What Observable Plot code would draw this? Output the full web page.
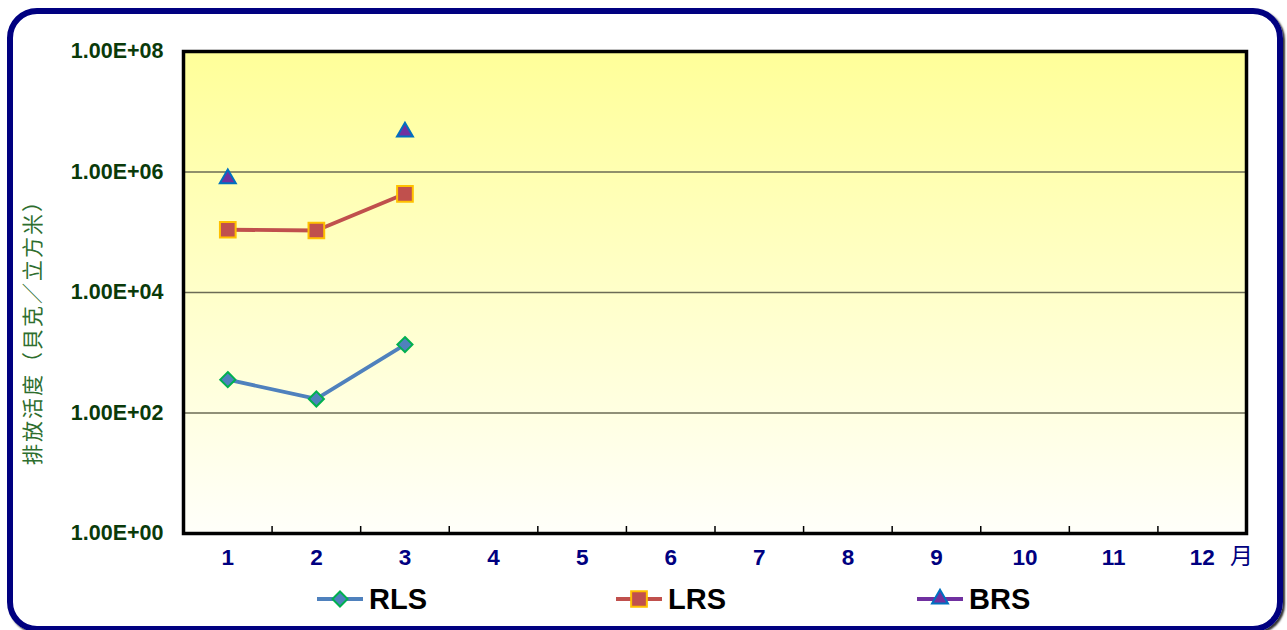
<!DOCTYPE html>
<html>
<head>
<meta charset="utf-8">
<script src="https://cdn.jsdelivr.net/npm/d3@7"></script>
<script src="https://cdn.jsdelivr.net/npm/@observablehq/plot@0.6"></script>
<style>
  html, body { margin: 0; padding: 0; background: #ffffff; }
  body { width: 1287px; height: 630px; position: relative; overflow: hidden; }
  #border { position: absolute; left: 7px; top: 8px; width: 1276px; height: 624px; box-sizing: border-box;
            border: 6px solid #000080; border-radius: 30px; box-shadow: 2px 2px 2px #333; }
  #chart { position: absolute; left: 0; top: 0; }
  #ytitle { position: absolute; left: 31px; top: 327px; transform: translate(-50%, -50%) rotate(-90deg);
            font-family: "Noto Sans CJK TC", sans-serif; font-size: 21px; letter-spacing: 2px; color: #2e6e2e; white-space: nowrap; }
  #month { position: absolute; left: 1230px; top: 538px; font-family: "Noto Sans CJK TC", sans-serif; font-size: 23px; color: #000080; line-height: 1.4; }
  .legend-item { position: absolute; top: 583px; height: 32px; display: flex; align-items: center; }
  .legend-item span { font-family: "Liberation Sans", Arial, sans-serif; font-weight: bold; font-size: 29px; color: #000; margin-left: 4px; line-height: 1; }
</style>
</head>
<body>
<div id="border"></div>
<div id="chart"></div>
<div id="ytitle">排放活度（貝克／立方米）</div>
<div id="month">月</div>
<div id="legend"></div>
<script>
// ---- data ----
const months = [1, 2, 3, 4, 5, 6, 7, 8, 9, 10, 11, 12];
const dataMonths = [1, 2, 3];
const rls = [358, 171, 1365];
const lrs = [110000, 107000, 435000];
const brs = [777000, null, 4610000];
const yTicks = [1, 1e2, 1e4, 1e6, 1e8];
const gridValues = [1e2, 1e4, 1e6];
const seriesNames = ["RLS", "LRS", "BRS"];

const styles = {
  RLS: {line: "#4F81BD", fill: "#4F81BD", stroke: "#00B050", symbol: "diamond2", r: 6.8},
  LRS: {line: "#C0504D", fill: "#C0504D", stroke: "#FFC000", symbol: "square2", r: 10},
  BRS: {line: "#7030A0", fill: "#7030A0", stroke: "#0070C0", symbol: "triangle2", r: 7.6}
};

const seriesValues = {RLS: rls, LRS: lrs, BRS: brs};
const rows = seriesNames.flatMap(name =>
  dataMonths.map((m, i) => ({series: name, month: m, value: seriesValues[name][i]}))
);
const boundaries = months.slice(0, -1).map(m => m + 0.5);

const fmt = d => {
  const e = Math.round(Math.log10(d));
  return "1.00E+" + String(e).padStart(2, "0");
};

const marks = [
  Plot.frame({fill: "url(#plotbg)"}),
  Plot.ruleY(gridValues, {stroke: "#6b6b55", strokeWidth: 1.5}),
  Plot.frame({stroke: "#000", strokeWidth: 3.5}),
  Plot.axisY(yTicks, {label: null, tickSize: 0, tickPadding: 20, tickFormat: fmt, fontSize: 21.5, fontWeight: "bold",
    fill: "#0a3a0a", fontFamily: "Liberation Sans, Arial, sans-serif"}),
  Plot.axisX(months, {label: null, tickSize: 0, tickPadding: 16, fontSize: 22.5, fontWeight: "bold",
    fill: "#000080", fontFamily: "Liberation Sans, Arial, sans-serif"}),
  Plot.axisX(boundaries, {label: null, tickSize: 7, dy: -7, tickFormat: () => "", stroke: "#000", strokeWidth: 1.5})
];

for (const name of seriesNames) {
  const s = styles[name];
  const d = rows.filter(r => r.series === name);
  marks.push(Plot.line(d, {x: "month", y: "value", stroke: s.line, strokeWidth: 3.8, defined: r => r.value != null}));
}
for (const name of seriesNames) {
  const s = styles[name];
  const d = rows.filter(r => r.series === name && r.value != null);
  marks.push(Plot.dot(d, {x: "month", y: "value", symbol: s.symbol, r: s.r, fill: s.fill, stroke: s.stroke, strokeWidth: 2}));
}

const svg = Plot.plot({
  width: 1287,
  height: 575,
  marginTop: 51,
  marginLeft: 183,
  marginRight: 41,
  marginBottom: 42,
  style: {background: "transparent", overflow: "visible"},
  x: {type: "linear", domain: [0.5, 12.5], axis: null, label: null},
  y: {type: "log", domain: [1, 1e8], axis: null, label: null},
  marks
});

const defs = d3.select(svg).insert("defs", ":first-child");
const grad = defs.append("linearGradient").attr("id", "plotbg")
  .attr("x1", 0).attr("y1", 0).attr("x2", 0).attr("y2", 1);
grad.append("stop").attr("offset", "0%").attr("stop-color", "#FFFF99");
grad.append("stop").attr("offset", "100%").attr("stop-color", "#FFFFFA");

document.getElementById("chart").appendChild(svg);

// ---- legend ----
const legendLeft = {RLS: 315, LRS: 614, BRS: 915};
const legend = d3.select("#legend");
for (const name of seriesNames) {
  const s = styles[name];
  const item = legend.append("div").attr("class", "legend-item").style("left", legendLeft[name] + "px");
  const sw = item.append("svg").attr("width", 50).attr("height", 24);
  sw.append("line").attr("x1", 2).attr("x2", 48).attr("y1", 12).attr("y2", 12)
    .attr("stroke", s.line).attr("stroke-width", 4);
  const symType = {diamond2: d3.symbolDiamond2, square2: d3.symbolSquare2, triangle2: d3.symbolTriangle2}[s.symbol];
  sw.append("path").attr("transform", "translate(25,12)")
    .attr("d", d3.symbol(symType, Math.PI * s.r * s.r)())
    .attr("fill", s.fill).attr("stroke", s.stroke).attr("stroke-width", 2);
  item.append("span").text(name);
}
</script>
</body>
</html>
